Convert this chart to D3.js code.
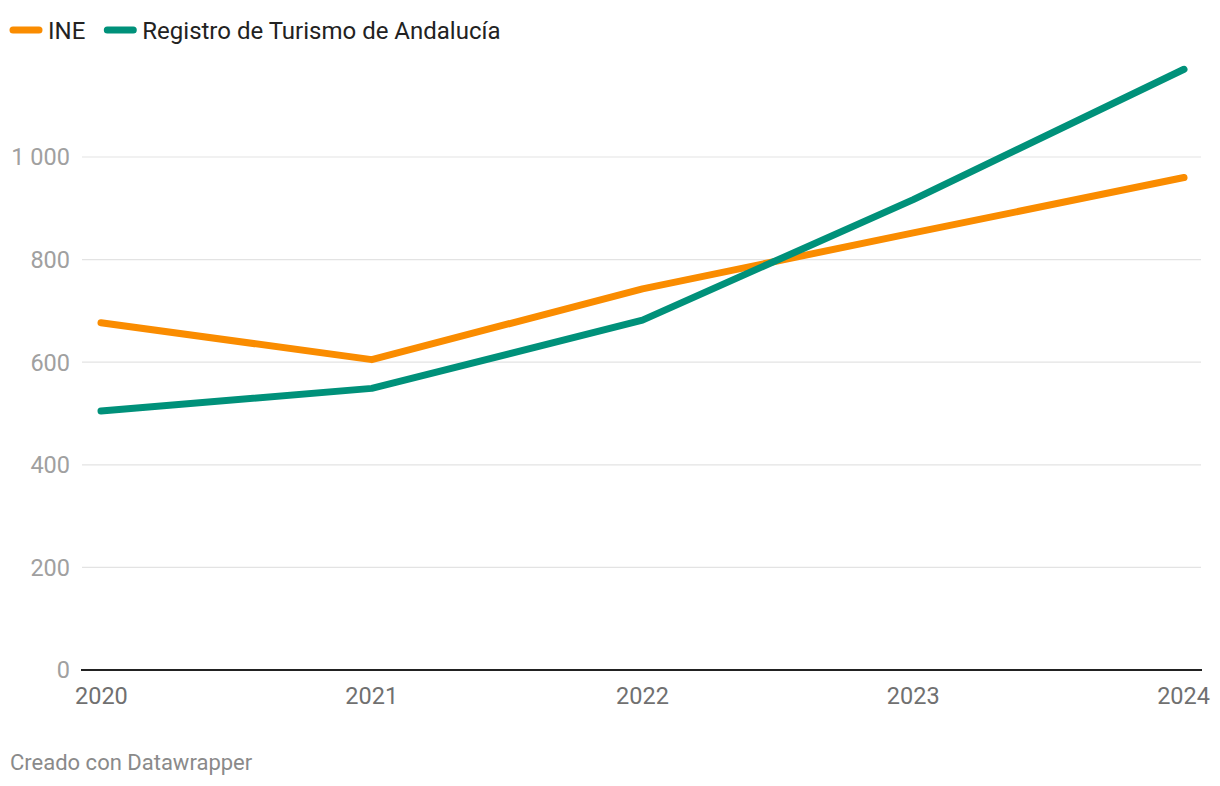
<!DOCTYPE html>
<html><head><meta charset="utf-8">
<script src="https://cdn.jsdelivr.net/npm/d3@7"></script>
<style>body{margin:0;background:#fff;font-family:Roboto,sans-serif}</style>
</head><body><svg id="c" width="1220" height="786"></svg>
<script>
const years = ["2020","2021","2022","2023","2024"];
const ine = [677, 605, 743, 852, 960];
const registro = [505, 549, 682, 917, 1171];
const yTicks = [0, 200, 400, 600, 800, 1000];
const seriesNames = ["INE", "Registro de Turismo de Andalucía"];
const colors = ["#fa8c00", "#00917a"];

const svg = d3.select("#c");
const x = d3.scalePoint().domain(years).range([101, 1184]);
const y = d3.scaleLinear().domain([0, 1000]).range([670, 157]);

const g = svg.append("g");
g.selectAll("line.grid").data(yTicks.filter(d => d > 0)).join("line")
  .attr("x1", 82).attr("x2", 1201)
  .attr("y1", d => y(d)).attr("y2", d => y(d))
  .attr("stroke", "#e3e3e3").attr("stroke-width", 1.2);
g.selectAll("text.yl").data(yTicks).join("text")
  .attr("x", 70).attr("y", d => y(d)).attr("dy", "0.36em")
  .attr("text-anchor", "end").attr("fill", "#a0a0a0")
  .attr("font-size", 23.5)
  .text(d => d3.format(",")(d).replace(/,/g, " "));
g.selectAll("text.xl").data(years).join("text")
  .attr("x", (d, i) => i === 0 ? 75 : i === years.length - 1 ? 1210 : x(d))
  .attr("y", 704)
  .attr("text-anchor", (d, i) => i === 0 ? "start" : i === years.length - 1 ? "end" : "middle")
  .attr("fill", "#707070").attr("font-size", 23.5)
  .text(d => d);

const line = d3.line().x((d, i) => x(years[i])).y(d => y(d));
[ine, registro].forEach((s, k) => {
  g.append("path").datum(s).attr("d", line)
    .attr("fill", "none").attr("stroke", colors[k]).attr("stroke-width", 7)
    .attr("stroke-linecap", "round").attr("stroke-linejoin", "round");
});
g.append("line").attr("x1", 81).attr("x2", 1202).attr("y1", y(0)).attr("y2", y(0))
  .attr("stroke", "#222").attr("stroke-width", 2);

let lx = 10;
seriesNames.forEach((n, k) => {
  svg.append("line").attr("x1", lx + 3).attr("x2", lx + 29).attr("y1", 30).attr("y2", 30)
    .attr("stroke", colors[k]).attr("stroke-width", 7).attr("stroke-linecap", "round");
  const t = svg.append("text").attr("x", lx + 38).attr("y", 38.5).attr("font-size", 24)
    .attr("fill", "#222").text(n);
  lx += 38 + t.node().getComputedTextLength() + 19;
});

svg.append("text").attr("x", 10).attr("y", 770).attr("font-size", 22)
  .attr("fill", "#8a8a8a").text("Creado con Datawrapper");
</script></body></html>
